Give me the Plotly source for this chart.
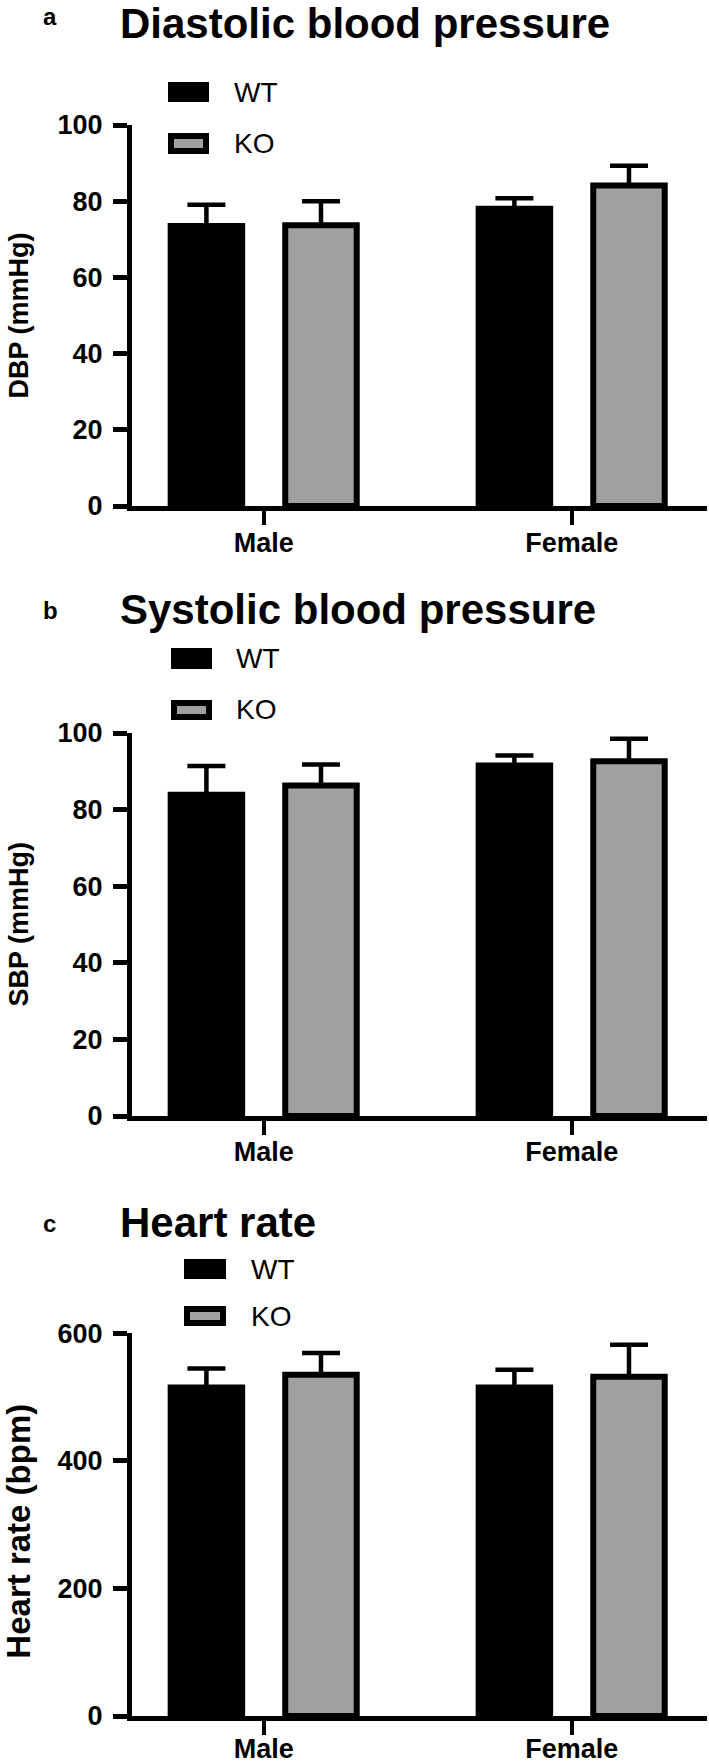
import plotly.graph_objects as go

# ---------------- data ----------------
categories = ["Male", "Female"]
groups = ["WT", "KO"]

dbp_wt = [73.5, 78.0]
dbp_wt_err = [5.6, 2.8]
dbp_ko = [73.7, 84.1]
dbp_ko_err = [6.3, 5.2]

sbp_wt = [83.9, 91.5]
sbp_wt_err = [7.5, 2.6]
sbp_ko = [86.3, 92.6]
sbp_ko_err = [5.5, 5.9]

hr_wt = [515, 515]
hr_wt_err = [30, 28]
hr_ko = [535, 532]
hr_ko_err = [34, 50]

panel_letters = ["a", "b", "c"]
panel_titles = ["Diastolic blood pressure", "Systolic blood pressure", "Heart rate"]
y_titles = ["DBP (mmHg)", "SBP (mmHg)", "Heart rate (bpm)"]
y_ticks = [[0, 20, 40, 60, 80, 100], [0, 20, 40, 60, 80, 100], [0, 200, 400, 600]]
y_ranges = [[0, 100], [0, 100], [0, 600]]

# ---------------- styling ----------------
W, H = 709, 1764
WT_COLOR = "#000000"
KO_COLOR = "#A0A0A0"
FONT = "Liberation Sans, Arial, sans-serif"


def px_x(x):
    return x / W


def px_y(y):
    return 1 - y / H


panels = [
    dict(wt=dbp_wt, wte=dbp_wt_err, ko=dbp_ko, koe=dbp_ko_err,
         ydom=(506, 125), title_y=23.5, letter_y=16.5,
         leg_x=(168, 209), leg_wt=(82, 102), leg_ko=(133, 154), leg_tx=233,
         ytitle_size=27, ytitle_shift=0, xlab_standoff=-5),
    dict(wt=sbp_wt, wte=sbp_wt_err, ko=sbp_ko, koe=sbp_ko_err,
         ydom=(1116, 733), title_y=609.5, letter_y=610.5,
         leg_x=(171, 212), leg_wt=(648, 669), leg_ko=(700, 720), leg_tx=235,
         ytitle_size=27, ytitle_shift=0, xlab_standoff=-6),
    dict(wt=hr_wt, wte=hr_wt_err, ko=hr_ko, koe=hr_ko_err,
         ydom=(1716, 1333.3), title_y=1222.5, letter_y=1223.5,
         leg_x=(184, 226), leg_wt=(1259, 1279), leg_ko=(1306, 1326), leg_tx=250,
         ytitle_size=33, ytitle_shift=7, xlab_standoff=-9),
]

fig = go.Figure()
annotations = []
shapes = []
layout = {}

for i, p in enumerate(panels):
    n = "" if i == 0 else str(i + 1)
    xref = "x" + n
    yref = "y" + n
    for name, vals, errs, color in [("WT", p["wt"], p["wte"], WT_COLOR),
                                    ("KO", p["ko"], p["koe"], KO_COLOR)]:
        fig.add_trace(go.Bar(
            x=categories, y=vals, name=name, xaxis=xref, yaxis=yref,
            marker=dict(color=color, line=dict(color="black", width=6)),
            error_y=dict(type="data", array=errs, arrayminus=[0] * len(errs),
                         symmetric=False, color="black", thickness=4.5, width=19),
            showlegend=False,
        ))
    layout["xaxis" + n] = dict(
        domain=[px_x(132), px_x(707)], anchor=yref, automargin=False,
        range=[-0.4276, 1.4393], type="category",
        showline=True, linewidth=5, linecolor="black",
        ticks="outside", ticklen=14, tickwidth=4, tickcolor="black",
        showgrid=False, zeroline=False, ticklabelstandoff=p["xlab_standoff"],
        tickfont=dict(family=FONT, size=27, color="black", weight="bold"),
    )
    layout["yaxis" + n] = dict(
        domain=[px_y(p["ydom"][0]), px_y(p["ydom"][1])], anchor=xref, automargin=False,
        range=y_ranges[i], tickvals=y_ticks[i],
        showline=True, linewidth=5, linecolor="black",
        ticks="outside", ticklen=14, tickwidth=5, tickcolor="black",
        showgrid=False, zeroline=False, ticklabelstandoff=5,
        tickfont=dict(family=FONT, size=27, color="black", weight="bold"),
    )
    # panel letter and title
    annotations.append(dict(text=panel_letters[i], x=px_x(41), y=px_y(p["letter_y"]),
                            xref="paper", yref="paper", xanchor="left", yanchor="middle",
                            showarrow=False,
                            font=dict(family=FONT, size=24, color="black", weight="bold")))
    annotations.append(dict(text=panel_titles[i], x=px_x(118), y=px_y(p["title_y"]),
                            xref="paper", yref="paper", xanchor="left", yanchor="middle",
                            showarrow=False,
                            font=dict(family=FONT, size=42, color="black", weight="bold")))
    # y-axis title
    yc = (p["ydom"][0] + p["ydom"][1]) / 2 + p["ytitle_shift"]
    annotations.append(dict(text=y_titles[i], x=px_x(19), y=px_y(yc),
                            xref="paper", yref="paper", xanchor="center", yanchor="middle",
                            textangle=-90, showarrow=False,
                            font=dict(family=FONT, size=p["ytitle_size"], color="black",
                                      weight="bold")))
    # legend
    x0, x1 = p["leg_x"]
    shapes.append(dict(type="rect", xref="paper", yref="paper",
                       x0=px_x(x0), x1=px_x(x1), y0=px_y(p["leg_wt"][1]), y1=px_y(p["leg_wt"][0]),
                       fillcolor=WT_COLOR, line=dict(width=0)))
    shapes.append(dict(type="rect", xref="paper", yref="paper",
                       x0=px_x(x0 + 3), x1=px_x(x1 - 3), y0=px_y(p["leg_ko"][1] - 3),
                       y1=px_y(p["leg_ko"][0] + 3),
                       fillcolor=KO_COLOR, line=dict(width=6, color="black")))
    for g, (t0, t1) in zip(groups, [p["leg_wt"], p["leg_ko"]]):
        annotations.append(dict(text=g, x=px_x(p["leg_tx"] - 1), y=px_y((t0 + t1) / 2),
                                xref="paper", yref="paper", xanchor="left", yanchor="middle",
                                showarrow=False,
                                font=dict(family=FONT, size=28, color="black")))

fig.update_layout(
    width=W, height=H,
    margin=dict(l=0, r=0, t=0, b=0, autoexpand=False),
    paper_bgcolor="white", plot_bgcolor="white",
    barmode="group", bargap=0.256, bargroupgap=0.376,
    showlegend=False,
    annotations=annotations, shapes=shapes,
    **layout,
)

fig.write_html("out.html", config={"displayModeBar": False},
               post_script="document.body.style.margin='0px';")
